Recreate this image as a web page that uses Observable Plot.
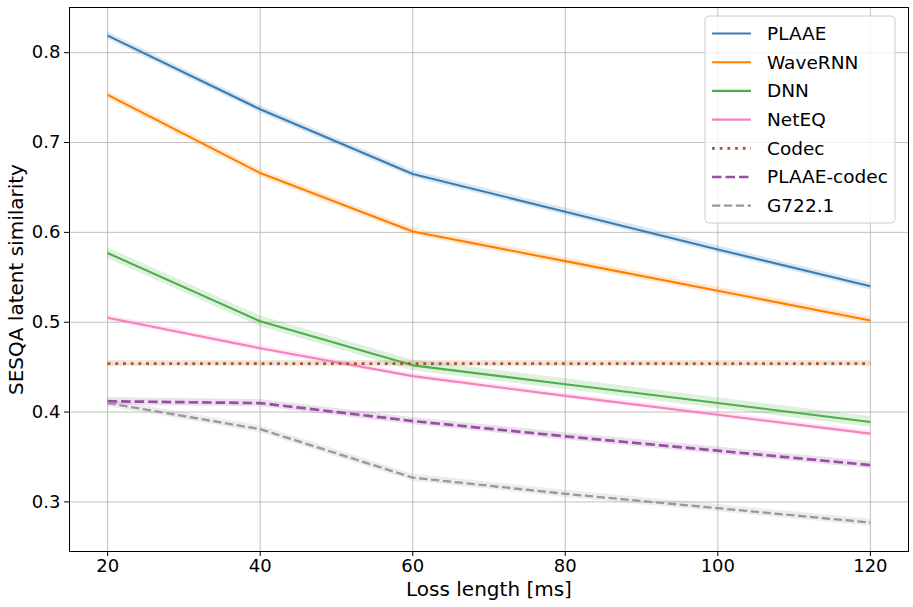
<!DOCTYPE html>
<html>
<head>
<meta charset="utf-8">
<script src="https://cdn.jsdelivr.net/npm/d3@7"></script>
<script src="https://cdn.jsdelivr.net/npm/@observablehq/plot@0.6"></script>
<style>
  html, body { margin: 0; padding: 0; background: white; }
  #chart { width: 913px; height: 607px; }
</style>
</head>
<body>
<div id="chart"></div>
<script>
// ---- data ----
const lossLengths = [20, 40, 60, 80, 100, 120];
const xTicks = [20, 40, 60, 80, 100, 120];
const yTicks = [0.3, 0.4, 0.5, 0.6, 0.7, 0.8];

const plaae      = [0.819, 0.737, 0.665, 0.623, 0.581, 0.540];
const wavernn    = [0.753, 0.666, 0.601, 0.568, 0.535, 0.502];
const dnn        = [0.577, 0.501, 0.452, 0.431, 0.410, 0.389];
const neteq      = [0.505, 0.471, 0.440, 0.418, 0.397, 0.376];
const codec      = [0.454, 0.454, 0.454, 0.454, 0.454, 0.454];
const plaaeCodec = [0.412, 0.410, 0.390, 0.373, 0.357, 0.341];
const g7221      = [0.410, 0.381, 0.327, 0.309, 0.293, 0.277];

// confidence band half-widths
const plaaeCi      = [0.004, 0.004, 0.004, 0.004, 0.004, 0.004];
const wavernnCi    = [0.004, 0.004, 0.004, 0.004, 0.004, 0.004];
const dnnCi        = [0.006, 0.006, 0.006, 0.006, 0.006, 0.006];
const neteqCi      = [0.003, 0.003, 0.003, 0.003, 0.003, 0.003];
const codecCi      = [0.003, 0.003, 0.003, 0.003, 0.003, 0.003];
const plaaeCodecCi = [0.004, 0.004, 0.004, 0.004, 0.004, 0.004];
const g7221Ci      = [0.004, 0.004, 0.004, 0.004, 0.004, 0.004];

const seriesNames = ["PLAAE", "WaveRNN", "DNN", "NetEQ", "Codec", "PLAAE-codec", "G722.1"];
const seriesValues = [plaae, wavernn, dnn, neteq, codec, plaaeCodec, g7221];
const seriesCi = [plaaeCi, wavernnCi, dnnCi, neteqCi, codecCi, plaaeCodecCi, g7221Ci];
const seriesColors = ["#377eb8", "#ff7f00", "#4daf4a", "#f781bf", "#a65628", "#984ea3", "#999999"];
const seriesWidths = [2.1, 2.1, 2.1, 2.1, 2.8, 2.7, 2.3];
const seriesDash = [null, null, null, null, "2.8,4.9", "9.5,4", "8.3,3.6"];

// ---- build table ----
const series = seriesNames.map((name, k) => ({
  name,
  color: seriesColors[k],
  width: seriesWidths[k],
  dash: seriesDash[k],
  rows: lossLengths.map((x, i) => ({
    x,
    y: seriesValues[k][i],
    lo: seriesValues[k][i] - seriesCi[k][i],
    hi: seriesValues[k][i] + seriesCi[k][i]
  }))
}));

const marks = [
  Plot.gridX(xTicks, {stroke: "#b0b0b0", strokeOpacity: 1, strokeWidth: 0.8}),
  Plot.gridY(yTicks, {stroke: "#b0b0b0", strokeOpacity: 1, strokeWidth: 0.8}),
];
for (const s of series) {
  marks.push(Plot.areaY(s.rows, {x: "x", y1: "lo", y2: "hi", fill: s.color, fillOpacity: 0.18}));
}
for (const s of series) {
  const opts = {x: "x", y: "y", stroke: s.color, strokeWidth: s.width, strokeLinejoin: "round", strokeLinecap: "butt"};
  if (s.dash) opts.strokeDasharray = s.dash;
  marks.push(Plot.line(s.rows, opts));
}
marks.push(
  Plot.frame({stroke: "black", strokeWidth: 1}),
  Plot.axisX(xTicks, {tickSize: 5, tickPadding: 3, fontSize: 18, label: null, stroke: "black"}),
  Plot.axisY(yTicks, {tickSize: 5, tickPadding: 4, fontSize: 18, label: null, tickFormat: d3.format(".1f"), stroke: "black"}),
  Plot.text(["Loss length [ms]"], {frameAnchor: "bottom", lineAnchor: "middle", textAnchor: "middle", dy: 38, fontSize: 20, fill: "black"}),
  Plot.text(["SESQA latent similarity"], {frameAnchor: "left", lineAnchor: "middle", textAnchor: "middle", dx: -53, rotate: -90, fontSize: 20, fill: "black"})
);

const chart = Plot.plot({
  width: 913,
  height: 607,
  marginLeft: 69,
  marginRight: 5,
  marginTop: 7,
  marginBottom: 56,
  style: {fontFamily: "DejaVu Sans", fontSize: "18px", color: "black", background: "white"},
  x: {domain: [15, 125], label: null},
  y: {domain: [0.2448, 0.8503], label: null},
  marks
});

const svg = d3.select(chart);
// make sure tick labels use the intended size
svg.selectAll("g[aria-label='x-axis tick label'] text, g[aria-label='y-axis tick label'] text")
  .attr("font-size", 18).style("font-size", "18px");
svg.selectAll("g[aria-label='x-axis tick label'], g[aria-label='y-axis tick label']")
  .attr("font-size", 18).style("font-size", "18px");

// ---- legend ----
const lg = svg.append("g")
  .attr("font-family", "DejaVu Sans")
  .attr("font-size", 18.5)
  .attr("text-anchor", "start");
lg.append("rect")
  .attr("x", 705).attr("y", 16).attr("width", 190).attr("height", 207)
  .attr("rx", 4).attr("ry", 4)
  .attr("fill", "white").attr("fill-opacity", 0.8)
  .attr("stroke", "#cccccc").attr("stroke-width", 1);
series.forEach((s, i) => {
  const cy = 33.5 + i * 28.7;
  const l = lg.append("line")
    .attr("x1", 712).attr("x2", 751).attr("y1", cy).attr("y2", cy)
    .attr("stroke", s.color).attr("stroke-width", s.width);
  if (s.dash) l.attr("stroke-dasharray", s.dash);
  lg.append("text")
    .attr("x", 767).attr("y", cy).attr("dy", "0.35em")
    .attr("text-anchor", "start")
    .attr("fill", "black")
    .style("font-size", "18.5px")
    .text(s.name);
});

document.getElementById("chart").appendChild(chart);
</script>
</body>
</html>
